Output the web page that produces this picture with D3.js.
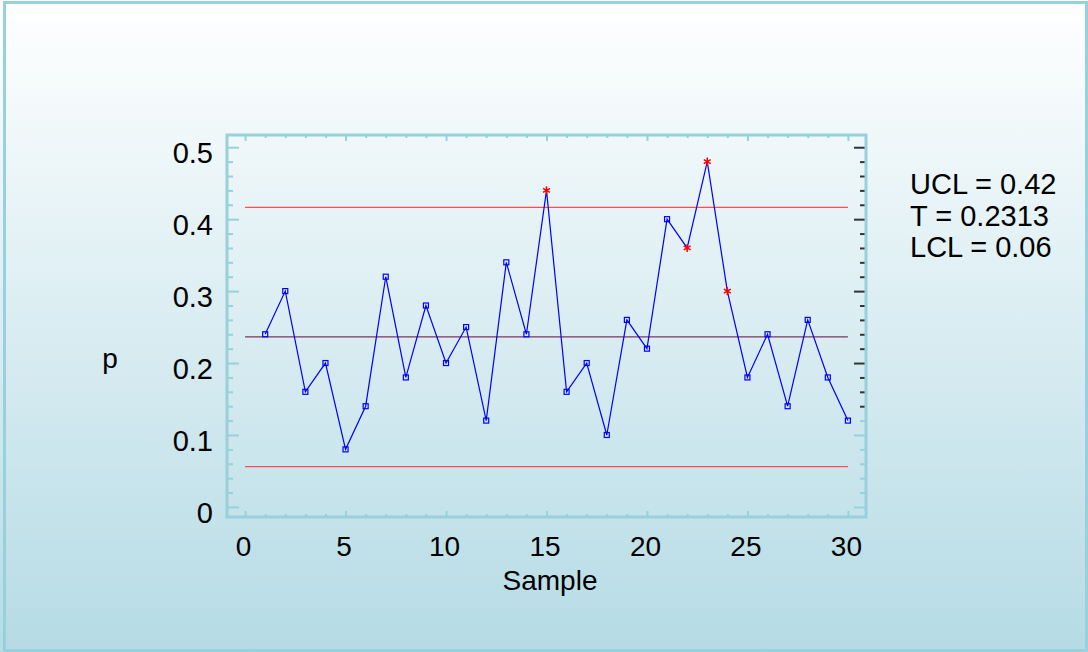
<!DOCTYPE html>
<html>
<head>
<meta charset="utf-8">
<script src="https://cdn.jsdelivr.net/npm/d3@7"></script>
<style>
  body { margin: 0; background: #fff; }
  svg text { font-family: "Liberation Sans", Arial, sans-serif; fill: #000; }
</style>
</head>
<body>
<svg id="chart" width="1088" height="652"></svg>
<script>
// sample numbers and proportion defective per sample
const samples = [1, 2, 3, 4, 5, 6, 7, 8, 9, 10, 11, 12, 13, 14, 15, 16, 17, 18, 19, 20, 21, 22, 23, 24, 25, 26, 27, 28, 29, 30]
const pValues = [0.24, 0.30, 0.16, 0.20, 0.08, 0.14, 0.32, 0.18, 0.28, 0.20, 0.25, 0.12, 0.34, 0.24, 0.44,
                 0.16, 0.20, 0.10, 0.26, 0.22, 0.40, 0.36, 0.48, 0.30, 0.18, 0.24, 0.14, 0.26, 0.18, 0.12]
// samples flagged out of control (red stars)
const flagged = [15, 22, 23, 24]

// control limits as drawn
const ucl = 0.4165
const centerLine = 0.2363
const lcl = 0.0561
const legendLabels = ["UCL = 0.42", "T = 0.2313", "LCL = 0.06"]

const xTicks = [0, 5, 10, 15, 20, 25, 30]
const xMinorTicks = [1, 2, 3, 4, 6, 7, 8, 9, 11, 12, 13, 14, 16, 17, 18, 19, 21, 22, 23, 24, 26, 27, 28, 29]
const yTicks = [0, 0.1, 0.2, 0.3, 0.4, 0.5]
const yMinorTicks = [0.02, 0.04, 0.06, 0.08, 0.12, 0.14, 0.16, 0.18, 0.22, 0.24, 0.26, 0.28,
                     0.32, 0.34, 0.36, 0.38, 0.42, 0.44, 0.46, 0.48]

const W = 1088, H = 652
const plot = { left: 227, right: 866, top: 135, bottom: 517 }
const axisColor = "#98d0dc"
const fontSize = 28

const svg = d3.select("#chart")

// background gradient
const defs = svg.append("defs")
const grad = defs.append("linearGradient").attr("id", "bg").attr("x1", 0).attr("y1", 0).attr("x2", 0).attr("y2", 1)
grad.append("stop").attr("offset", "0%").attr("stop-color", "#ffffff")
grad.append("stop").attr("offset", "100%").attr("stop-color", "#b5dbe5")

svg.append("rect").attr("width", W).attr("height", H).attr("fill", "url(#bg)")
svg.append("rect")
  .attr("x", 4.5).attr("y", 2.5).attr("width", 1082).attr("height", 648)
  .attr("fill", "none").attr("stroke", axisColor).attr("stroke-width", 3)

const x = d3.scaleLinear().domain([-0.9, 30.9]).range([plot.left, plot.right])
const y = d3.scaleLinear().domain([-0.014, 0.517]).range([plot.bottom, plot.top])

// axes (ticks point inward)
const styleAxis = (g) => {
  g.select(".domain").remove()
  g.selectAll(".tick line").attr("stroke", axisColor).attr("stroke-width", 2)
}

svg.append("g").attr("transform", `translate(0,${plot.bottom})`)
  .call(d3.axisBottom(x).tickValues(xTicks).tickSize(-6).tickPadding(19).tickFormat(d3.format("d")))
  .call(styleAxis)
  .selectAll("text").attr("font-size", fontSize).attr("dx", "-2")
svg.append("g").attr("transform", `translate(0,${plot.bottom})`)
  .call(d3.axisBottom(x).tickValues(xMinorTicks).tickSize(-3).tickFormat(""))
  .call(styleAxis)

svg.append("g").attr("transform", `translate(0,${plot.top})`)
  .call(d3.axisTop(x).tickValues(xTicks).tickSize(-6).tickFormat(""))
  .call(styleAxis)
svg.append("g").attr("transform", `translate(0,${plot.top})`)
  .call(d3.axisTop(x).tickValues(xMinorTicks).tickSize(-3).tickFormat(""))
  .call(styleAxis)

svg.append("g").attr("transform", `translate(${plot.left},0)`)
  .call(d3.axisLeft(y).tickValues(yTicks).tickSize(-12).tickPadding(14).tickFormat(d3.format("")))
  .call(styleAxis)
  .selectAll("text").attr("font-size", fontSize + 1).attr("dy", "0.52em")
svg.append("g").attr("transform", `translate(${plot.left},0)`)
  .call(d3.axisLeft(y).tickValues(yMinorTicks).tickSize(-6).tickFormat(""))
  .call(styleAxis)

const rightMajor = svg.append("g").attr("transform", `translate(${plot.right},0)`)
  .call(d3.axisRight(y).tickValues(yTicks).tickSize(-12).tickFormat(""))
  .call(styleAxis)
const rightMinor = svg.append("g").attr("transform", `translate(${plot.right},0)`)
  .call(d3.axisRight(y).tickValues(yMinorTicks).tickSize(-6).tickFormat(""))
  .call(styleAxis)
// upper right-hand ticks are dark
rightMajor.selectAll(".tick line").attr("stroke", (d) => (d >= 0.13 ? "#333" : axisColor))
rightMinor.selectAll(".tick line").attr("stroke", (d) => (d >= 0.13 ? "#333" : axisColor))

// frame
svg.append("rect")
  .attr("x", plot.left).attr("y", plot.top)
  .attr("width", plot.right - plot.left).attr("height", plot.bottom - plot.top)
  .attr("fill", "none").attr("stroke", axisColor).attr("stroke-width", 3)

// control limit lines
const limits = [
  { v: ucl, color: "#ff4d4d" },
  { v: centerLine, color: "#7e3560" },
  { v: lcl, color: "#ff4d4d" }
]
svg.selectAll(".limit").data(limits).enter().append("line")
  .attr("class", "limit")
  .attr("x1", x(samples[0] - 1)).attr("x2", x(samples[samples.length - 1]))
  .attr("y1", (d) => y(d.v)).attr("y2", (d) => y(d.v))
  .attr("stroke", (d) => d.color).attr("stroke-width", 1.3)

// data line
const line = d3.line().x((d, i) => x(samples[i])).y((d) => y(d))
svg.append("path").datum(pValues)
  .attr("d", line).attr("fill", "none").attr("stroke", "#0000ff").attr("stroke-width", 1.2)

// markers
const points = samples.map((s, i) => ({ s, v: pValues[i], out: flagged.includes(s) }))
svg.selectAll(".pt").data(points.filter((d) => !d.out)).enter().append("rect")
  .attr("class", "pt")
  .attr("x", (d) => x(d.s) - 2.5).attr("y", (d) => y(d.v) - 2.5)
  .attr("width", 5).attr("height", 5)
  .attr("fill", "none").attr("stroke", "#0000ff").attr("stroke-width", 1.2)

svg.selectAll(".star").data(points.filter((d) => d.out)).enter().append("path")
  .attr("class", "star")
  .attr("transform", (d) => `translate(${x(d.s)},${y(d.v)})`)
  .attr("d", d3.symbol(d3.symbolAsterisk, 45))
  .attr("fill", "none").attr("stroke", "#ff0000").attr("stroke-width", 1.5)

// axis titles
svg.append("text").attr("x", 550).attr("y", 590).attr("text-anchor", "middle")
  .attr("font-size", fontSize).text("Sample")
svg.append("text").attr("x", 110).attr("y", 368).attr("text-anchor", "middle")
  .attr("font-size", fontSize).text("p")

// legend
svg.selectAll(".legend").data(legendLabels).enter().append("text")
  .attr("class", "legend")
  .attr("x", 910).attr("y", (d, i) => 194 + i * 31.5)
  .attr("font-size", fontSize + 1).text((d) => d)
</script>
</body>
</html>
